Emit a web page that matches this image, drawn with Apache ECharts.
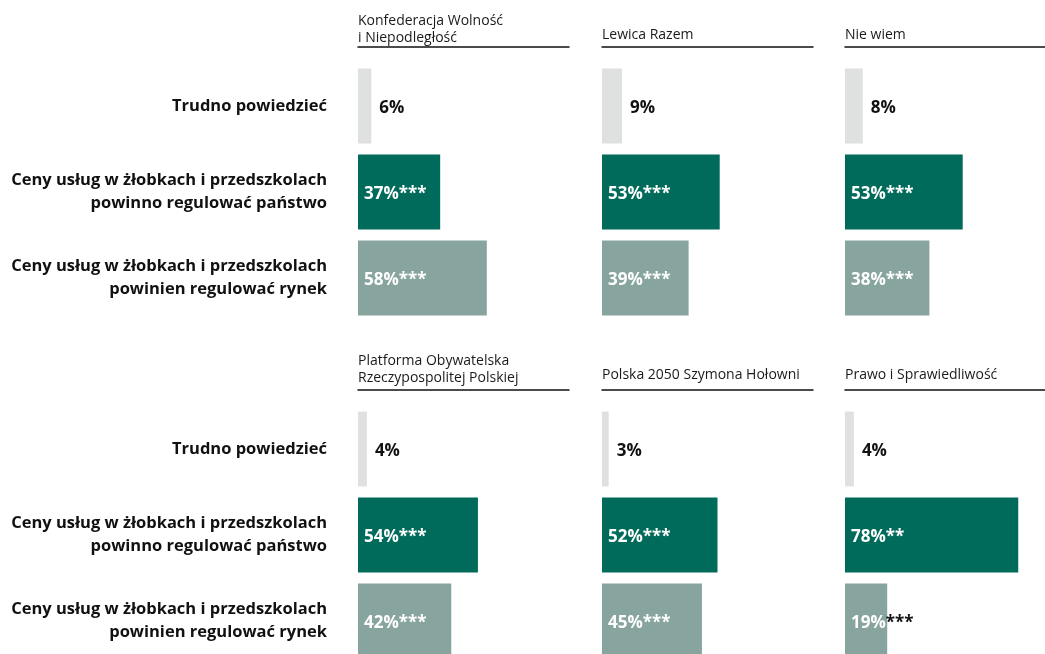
<!DOCTYPE html>
<html>
<head>
<meta charset="utf-8">
<script src="https://cdn.jsdelivr.net/npm/echarts@6/dist/echarts.min.js"></script>
<style>
  html, body { margin: 0; padding: 0; background: #fff; overflow: hidden; }
  #chart { width: 1070px; height: 690px; }
</style>
</head>
<body>
<div id="chart"></div>
<script>
// party panels, left-to-right, top-to-bottom
const parties = [
  'Konfederacja Wolność\ni Niepodległość',
  'Lewica Razem',
  'Nie wiem',
  'Platforma Obywatelska\nRzeczypospolitej Polskiej',
  'Polska 2050 Szymona Hołowni',
  'Prawo i Sprawiedliwość'
];

const categories = [
  'Trudno powiedzieć',
  'Ceny usług w żłobkach i przedszkolach\npowinno regulować państwo',
  'Ceny usług w żłobkach i przedszkolach\npowinien regulować rynek'
];

// values (%) per party
const trudno  = [6, 9, 8, 4, 3, 4];
const panstwo = [37, 53, 53, 54, 52, 78];
const rynek   = [58, 39, 38, 42, 45, 19];

// significance markers
const panstwoSig = ['***', '***', '***', '***', '***', '**'];
const rynekSig   = ['***', '***', '***', '***', '***', '***'];

const COLORS = ['#dfe0e0', '#006b5b', '#87a59e'];
const FONT = "'Open Sans', sans-serif";

const colLeft = [358, 602, 845];
const rowTop = [63, 406];
const titleGap = [36, 39];
const gridW = 211;
const gridH = 258;

// the div is a bit larger than the window so the right column and
// last row are cut off by the window, not squeezed by echarts
const chart = echarts.init(document.getElementById('chart'));

const grids = [], xAxes = [], yAxes = [], series = [], titles = [];

parties.forEach((name, i) => {
  const col = i % 3, row = Math.floor(i / 3);
  const lines = name.split('\n').length;
  grids.push({ left: colLeft[col], top: rowTop[row], width: gridW, height: gridH });

  titles.push({
    text: name,
    left: colLeft[col],
    top: rowTop[row] - titleGap[row] - (lines - 1) * 14,
    padding: 0,
    textStyle: { fontFamily: FONT, fontSize: 14, fontWeight: 'normal', color: '#1a1a1a', lineHeight: 17 }
  });

  xAxes.push({
    gridIndex: i,
    type: 'value',
    min: 0,
    max: 95,
    position: 'top',
    offset: 16,
    axisLine: { show: true, lineStyle: { color: '#111', width: 1.5 } },
    axisTick: { show: false },
    axisLabel: { show: false },
    splitLine: { show: false }
  });

  yAxes.push({
    gridIndex: i,
    type: 'category',
    inverse: true,
    data: categories,
    axisLine: { show: false },
    axisTick: { show: false },
    axisLabel: {
      show: col === 0,
      margin: 31,
      fontFamily: FONT,
      fontSize: 16.5,
      fontWeight: 'bold',
      color: '#111',
      lineHeight: 23,
      align: 'right'
    }
  });

  const vals = [trudno[i], panstwo[i], rynek[i]];
  const sigs = ['', panstwoSig[i], rynekSig[i]];
  series.push({
    type: 'bar',
    xAxisIndex: i,
    yAxisIndex: i,
    barCategoryGap: '13%',
    silent: true,
    data: vals.map((v, k) => {
      const outside = k === 0;
      const starsOut = !outside && v < 25;
      return {
        value: v,
        itemStyle: { color: COLORS[k] },
        label: {
          show: true,
          position: outside ? 'right' : 'insideLeft',
          distance: outside ? 8 : 6,
          offset: [0, 2],
          formatter: '{v|' + v + '%}{s|' + sigs[k] + '}',
          rich: {
            v: { fontFamily: FONT, fontSize: 17, fontWeight: 'bold', color: outside ? '#111' : '#fff' },
            s: { fontFamily: FONT, fontSize: 17, fontWeight: 'bold', color: starsOut ? '#111' : '#fff' }
          }
        }
      };
    })
  });
});

chart.setOption({
  animation: false,
  title: titles,
  grid: grids,
  xAxis: xAxes,
  yAxis: yAxes,
  series: series
});

window.addEventListener('resize', () => chart.resize());
</script>
</body>
</html>
